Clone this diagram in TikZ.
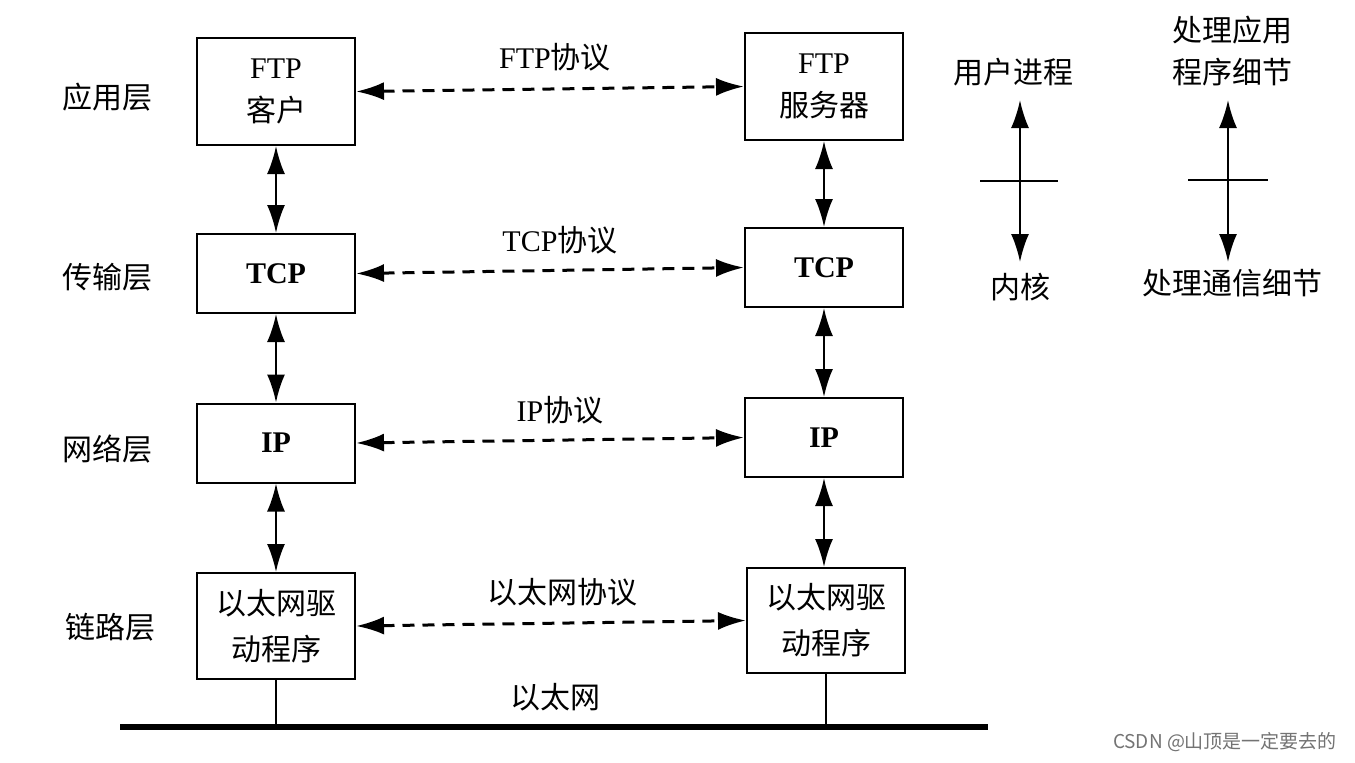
\documentclass[tikz,border=0pt]{standalone}
\usepackage{fontspec}
\setmainfont{Liberation Serif}
\newfontfamily\cjk{Noto Sans CJK SC}
\usetikzlibrary{arrows.meta}
\newcommand\zhs[1]{{\cjk #1}}
\begin{document}
\begin{tikzpicture}[x=0.5pt,y=-0.5pt,
  every node/.style={font=\fontsize{15pt}{18pt}\selectfont, inner sep=0pt},
  box/.style={draw, line width=1pt, minimum width=79pt, align=center},
  tall/.style={box, minimum height=53.5pt},
  short/.style={box, minimum height=39.5pt},
  varr/.style={line width=1.2pt, {Latex[length=14pt,width=9pt]}-{Latex[length=14pt,width=9pt]}},
  darr/.style={line width=1.5pt, dash pattern=on 6pt off 4pt, {Latex[length=14pt,width=9pt]}-{Latex[length=14pt,width=9pt]}},
]
\useasboundingbox[fill=white] (0,0) rectangle (1355,762);

% layer labels
\node (l1) at (107,97) {\zhs{应用层}};
\node (l2) at (107,277) {\zhs{传输层}};
\node (l3) at (107,449) {\zhs{网络层}};
\node (l4) at (110,627) {\zhs{链路层}};

% left column
\node[tall, font=\fontsize{15pt}{21.5pt}\selectfont] (lftp) at (276,91.5) {FTP\\\zhs{客户}};
\node[short] (ltcp) at (276,273.5) {\bfseries TCP};
\node[short] (lip)  at (276,443) {\bfseries IP};
\node[tall, minimum height=53pt, font=\fontsize{15pt}{23pt}\selectfont] (leth) at (276,626) {\zhs{以太网驱}\\\zhs{动程序}};

% right column
\node[tall, font=\fontsize{15pt}{21.5pt}\selectfont] (rftp) at (824,86.5) {FTP\\\zhs{服务器}};
\node[short] (rtcp) at (824,267.5) {\bfseries TCP};
\node[short] (rip)  at (824,437.5) {\bfseries IP};
\node[tall, minimum height=52.5pt, font=\fontsize{15pt}{23pt}\selectfont] (reth) at (826,620.5) {\zhs{以太网驱}\\\zhs{动程序}};

% vertical arrows
\draw[varr] (lftp.south) -- (ltcp.north);
\draw[varr] (ltcp.south) -- (lip.north);
\draw[varr] (lip.south) -- (leth.north);
\draw[varr] (rftp.south) -- (rtcp.north);
\draw[varr] (rtcp.south) -- (rip.north);
\draw[varr] (rip.south) -- (rip.south |- reth.north);

% dashed protocol arrows
\draw[darr] (lftp.east) -- (rftp.west);
\draw[darr] (ltcp.east) -- (rtcp.west);
\draw[darr] (lip.east) -- (rip.west);
\draw[darr] (leth.east) -- (reth.west);

\node (p1) at (555,57) {FTP\zhs{协议}};
\node (p2) at (560,240) {TCP\zhs{协议}};
\node (p3) at (560,410) {IP\zhs{协议}};
\node (p4) at (562,592) {\zhs{以太网协议}};

% ethernet bus
\coordinate (busL) at (120,727);
\coordinate (busR) at (988,727);
\draw[line width=2.6pt] (busL) -- (busR);
\draw[line width=0.8pt] (leth.south) -- (leth.south |- busL);
\draw[line width=0.8pt] (reth.south) -- (reth.south |- busL);
\node (eth) at (555,697) {\zhs{以太网}};

% legend 1
\node (u1) at (1013,72) {\zhs{用户进程}};
\node (k1) at (1020,287) {\zhs{内核}};
\coordinate (a1t) at (1020,100);
\coordinate (a1b) at (1020,262);
\coordinate (t1l) at (980,181);
\coordinate (t1r) at (1058,181);
\draw[varr] (a1t) -- (a1b);
\draw[line width=1.2pt] (t1l) -- (t1r);

% legend 2
\node[align=center, font=\fontsize{15pt}{21pt}\selectfont] (u2) at (1232,51) {\zhs{处理应用}\\\zhs{程序细节}};
\node (k2) at (1232,283) {\zhs{处理通信细节}};
\coordinate (a2t) at (1228,100);
\coordinate (a2b) at (1228,262);
\coordinate (t2l) at (1188,180);
\coordinate (t2r) at (1268,180);
\draw[varr] (a2t) -- (a2b);
\draw[line width=1.2pt] (t2l) -- (t2r);

% watermark
\node[font=\cjk\fontsize{9.5pt}{11pt}\selectfont, text=black!55] (wm) at (1225,742) {CSDN @山顶是一定要去的};
\end{tikzpicture}
\end{document}
